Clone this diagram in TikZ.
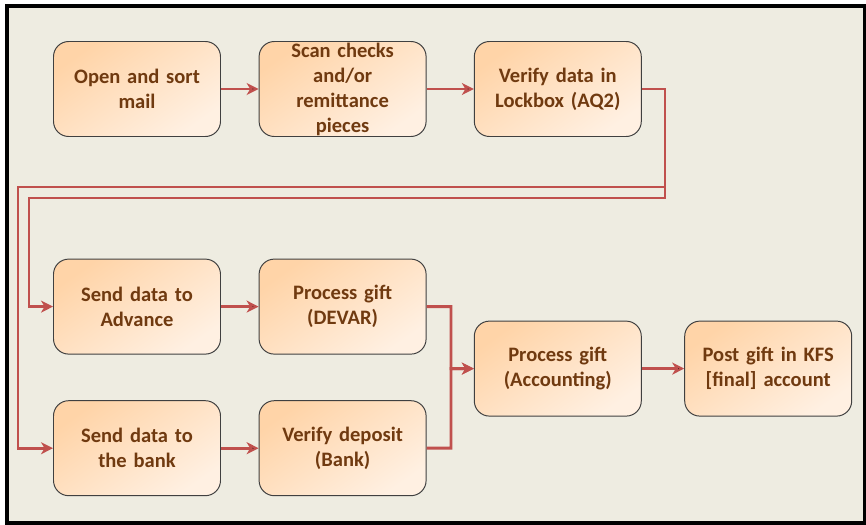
\documentclass[tikz,border=0pt]{standalone}
\usepackage{fontspec}
\setmainfont{Carlito}
\usetikzlibrary{arrows.meta}
\definecolor{panel}{RGB}{238,236,225}
\definecolor{flow}{RGB}{192,80,77}
\definecolor{boxtop}{RGB}{255,212,168}
\definecolor{boxbot}{RGB}{255,240,226}
\definecolor{boxtext}{RGB}{112,58,16}
\definecolor{boxline}{RGB}{64,64,64}

\begin{document}
\begin{tikzpicture}[->,>={Stealth[length=8.5pt,width=8.5pt,inset=2.5pt]},auto,
    flow line/.style={draw=flow,line width=2.1pt},
    step node/.style={rectangle,rounded corners=0.38cm,draw=boxline,line width=0.7pt,
      top color=boxtop,bottom color=boxbot,shading angle=35,
      minimum width=4.175cm,minimum height=2.375cm,inner sep=0pt,
      text width=4cm,align=center,text=boxtext,
      font=\fontsize{14.6pt}{17.8pt}\selectfont\bfseries}]

    \useasboundingbox[fill=white] (-3.425,2.225) rectangle (18.225,-10.875);
    \draw[-,line width=0.1cm,fill=panel] (-3.2375,2.0875) rectangle (18.1875,-10.8375);

          \node[step node] (1) {Open and sort\\mail};
          \node[step node] (2) [right of=1,node distance=5.14cm] {Scan checks\\and/or\\remittance\\pieces};
          \node[step node] (3) [right of=2,node distance=5.38cm] {Verify data in\\Lockbox (AQ2)};
          \node[step node] (4) [below of=1,node distance=5.44cm] {Send data to\\Advance};
          \node[step node] (5) [right of=4,node distance=5.14cm] {Process gift\\(DEVAR)};
          \node[step node] (6) [below of=4,node distance=3.54cm] {Send data to\\the bank};
          \node[step node] (7) [right of=6,node distance=5.14cm] {Verify deposit\\(Bank)};
          \node[step node] (8) [below of=3,node distance=6.99cm] {Process gift\\(Accounting)};
          \node[step node] (9) [right of=8,node distance=5.26cm] {Post gift in KFS\\{[final]} account};

          % bends of the long return lines and the merge point
          \coordinate (a1) at (13.2,-2.45);
          \coordinate (a2) at (-2.975,-2.45);
          \coordinate (b1) at (13.2,-2.725);
          \coordinate (b2) at (-2.7,-2.725);
          \coordinate (m) at (7.85,-6.99);

          \path[flow line]
           (1) edge (2)
           (2) edge (3)
           (4) edge (5)
           (6) edge (7)
           (8) edge (9);
          \draw[flow line] (3.east) -| (a1) -- (a2) |- (6.west);
          \draw[flow line] (3.east) -| (b1) -- (b2) |- (4.west);
          \draw[flow line] (5.east) -| (m) -- (8.west);
          \draw[flow line] (7.east) -| (m) -- (8.west);
       \end{tikzpicture}
\end{document}
